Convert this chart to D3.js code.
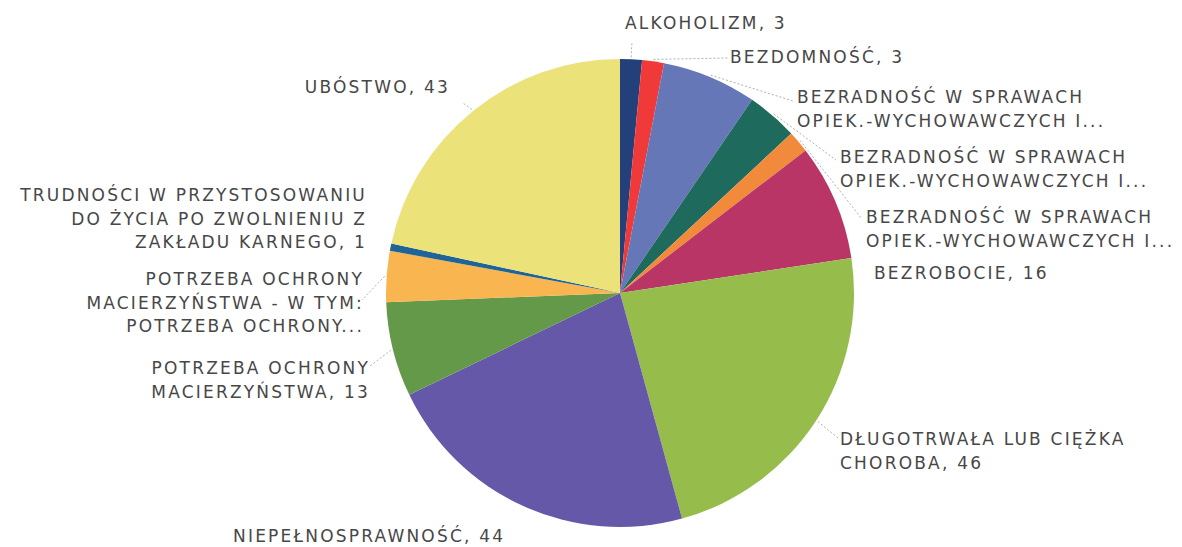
<!DOCTYPE html>
<html>
<head>
<meta charset="utf-8">
<script src="https://cdn.jsdelivr.net/npm/d3@7"></script>
<style>
  html, body { margin: 0; padding: 0; background: #fff; }
  svg text { font-family: "DejaVu Sans", sans-serif; font-size: 17px; fill: #474747; letter-spacing: 2.2px; }
</style>
</head>
<body>
<div id="app"></div>
<script>
// slice data, clockwise from 12 o'clock
const categories = [
  'ALKOHOLIZM', 'BEZDOMNOŚĆ',
  'BEZRADNOŚĆ W SPRAWACH OPIEK.-WYCHOWAWCZYCH I... (1)',
  'BEZRADNOŚĆ W SPRAWACH OPIEK.-WYCHOWAWCZYCH I... (2)',
  'BEZRADNOŚĆ W SPRAWACH OPIEK.-WYCHOWAWCZYCH I... (3)',
  'BEZROBOCIE', 'DŁUGOTRWAŁA LUB CIĘŻKA CHOROBA', 'NIEPEŁNOSPRAWNOŚĆ',
  'POTRZEBA OCHRONY MACIERZYŃSTWA',
  'POTRZEBA OCHRONY MACIERZYŃSTWA - W TYM: POTRZEBA OCHRONY...',
  'TRUDNOŚCI W PRZYSTOSOWANIU DO ŻYCIA PO ZWOLNIENIU Z ZAKŁADU KARNEGO',
  'UBÓSTWO'
];
const values = [3, 3, 13, 7, 3, 16, 46, 44, 13, 7, 1, 43];
const labelLines = [
  ['ALKOHOLIZM, 3'],
  ['BEZDOMNOŚĆ, 3'],
  ['BEZRADNOŚĆ W SPRAWACH', 'OPIEK.-WYCHOWAWCZYCH I...'],
  ['BEZRADNOŚĆ W SPRAWACH', 'OPIEK.-WYCHOWAWCZYCH I...'],
  ['BEZRADNOŚĆ W SPRAWACH', 'OPIEK.-WYCHOWAWCZYCH I...'],
  ['BEZROBOCIE, 16'],
  ['DŁUGOTRWAŁA LUB CIĘŻKA', 'CHOROBA, 46'],
  ['NIEPEŁNOSPRAWNOŚĆ, 44'],
  ['POTRZEBA OCHRONY', 'MACIERZYŃSTWA, 13'],
  ['POTRZEBA OCHRONY', 'MACIERZYŃSTWA - W TYM:', 'POTRZEBA OCHRONY...'],
  ['TRUDNOŚCI W PRZYSTOSOWANIU', 'DO ŻYCIA PO ZWOLNIENIU Z', 'ZAKŁADU KARNEGO, 1'],
  ['UBÓSTWO, 43']
];

const colors = ['#24407a', '#f03a3a', '#6677b8', '#1e6b5e', '#f28a3c', '#b83566',
                '#96bd4c', '#6558a8', '#64994a', '#f8b550', '#1f6496', '#ebe27a'];

// label placement (x, first baseline, anchor, leader end or null)
const labelPos = [
  {x: 625, y: 29, anchor: 'start', lead: [632, 42]},
  {x: 730, y: 63, anchor: 'start', lead: [728, 58]},
  {x: 797, y: 103, anchor: 'start', lead: [793, 101]},
  {x: 840, y: 163, anchor: 'start', lead: [836, 160]},
  {x: 866, y: 223, anchor: 'start', lead: [862, 219]},
  {x: 874, y: 279, anchor: 'start', lead: null},
  {x: 840, y: 445, anchor: 'start', lead: [838, 438]},
  {x: 233, y: 542, anchor: 'start', lead: null},
  {x: 370, y: 374, anchor: 'end', lead: [370, 366]},
  {x: 364, y: 285, anchor: 'end', lead: [362, 300]},
  {x: 367, y: 201, anchor: 'end', lead: null},
  {x: 450, y: 93, anchor: 'end', lead: [463, 103]}
];

const W = 1182, H = 547;
const cx = 620, cy = 293, R = 234;
const lineH = 23.5;

const svg = d3.select('#app').append('svg')
  .attr('width', W).attr('height', H);

const color = d3.scaleOrdinal().domain(categories).range(colors);

const pie = d3.pie().sort(null).value(d => d.value);
const arc = d3.arc().innerRadius(0).outerRadius(R);

const data = categories.map((c, i) => ({cat: c, value: values[i], lines: labelLines[i], pos: labelPos[i]}));
const arcs = pie(data);

const g = svg.append('g').attr('transform', `translate(${cx},${cy})`);

g.selectAll('path.slice')
  .data(arcs).enter()
  .append('path')
  .classed('slice', true)
  .attr('d', arc)
  .attr('fill', d => color(d.data.cat));

// leader lines from the slice edge midpoint
const edge = d3.arc().innerRadius(R + 2).outerRadius(R + 2);
svg.selectAll('line.lead')
  .data(arcs.filter(d => d.data.pos.lead)).enter()
  .append('line')
  .classed('lead', true)
  .attr('x1', d => cx + edge.centroid(d)[0])
  .attr('y1', d => cy + edge.centroid(d)[1])
  .attr('x2', d => d.data.pos.lead[0])
  .attr('y2', d => d.data.pos.lead[1])
  .attr('stroke', '#9a9a9a')
  .attr('stroke-width', 0.8)
  .attr('stroke-dasharray', '2,2');

const labels = svg.selectAll('text.lbl')
  .data(arcs).enter()
  .append('text')
  .classed('lbl', true)
  .attr('text-anchor', d => d.data.pos.anchor);

labels.selectAll('tspan')
  .data(d => d.data.lines.map((t, i) => ({t, i, p: d.data.pos})))
  .enter().append('tspan')
  .attr('x', d => d.p.x)
  .attr('y', d => d.p.y + d.i * lineH)
  .text(d => d.t);
</script>
</body>
</html>
